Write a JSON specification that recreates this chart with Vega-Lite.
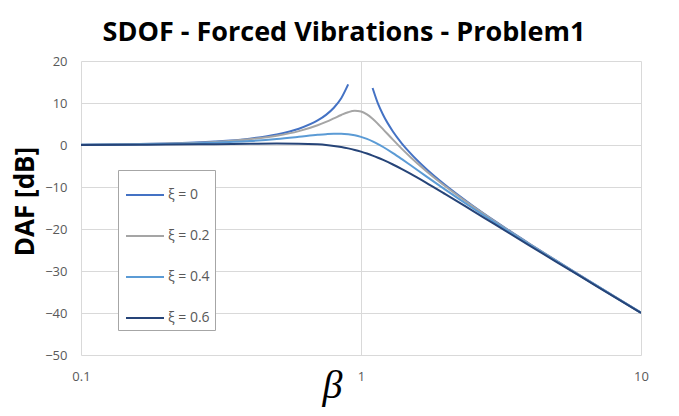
{
  "$schema": "https://vega.github.io/schema/vega-lite/v6.json",
  "autosize": "none",
  "width": 560,
  "height": 294,
  "padding": {"left": 81, "top": 61, "right": 38, "bottom": 61},
  "background": "white",
  "title": {
    "text": "SDOF - Forced Vibrations - Problem1",
    "font": "Open Sans",
    "fontSize": 27,
    "fontWeight": "bold",
    "color": "#000000",
    "anchor": "middle",
    "dx": -17,
    "offset": 8
  },
  "data": {
    "values": [
      {"b": 0.1, "x": "ξ = 0", "s": "a", "d": 0.087},
      {"b": 0.15, "x": "ξ = 0", "s": "a", "d": 0.198},
      {"b": 0.2, "x": "ξ = 0", "s": "a", "d": 0.355},
      {"b": 0.3, "x": "ξ = 0", "s": "a", "d": 0.819},
      {"b": 0.4, "x": "ξ = 0", "s": "a", "d": 1.514},
      {"b": 0.5, "x": "ξ = 0", "s": "a", "d": 2.499},
      {"b": 0.6, "x": "ξ = 0", "s": "a", "d": 3.876},
      {"b": 0.7, "x": "ξ = 0", "s": "a", "d": 5.849},
      {"b": 0.75, "x": "ξ = 0", "s": "a", "d": 7.18},
      {"b": 0.8, "x": "ξ = 0", "s": "a", "d": 8.874},
      {"b": 0.85, "x": "ξ = 0", "s": "a", "d": 11.135},
      {"b": 0.9, "x": "ξ = 0", "s": "a", "d": 14.425},
      {"b": 1.1, "x": "ξ = 0", "s": "b", "d": 13.556},
      {"b": 1.15, "x": "ξ = 0", "s": "b", "d": 9.829},
      {"b": 1.2, "x": "ξ = 0", "s": "b", "d": 7.131},
      {"b": 1.3, "x": "ξ = 0", "s": "b", "d": 3.223},
      {"b": 1.4, "x": "ξ = 0", "s": "b", "d": 0.355},
      {"b": 1.5, "x": "ξ = 0", "s": "b", "d": -1.938},
      {"b": 1.7, "x": "ξ = 0", "s": "b", "d": -5.529},
      {"b": 2, "x": "ξ = 0", "s": "b", "d": -9.542},
      {"b": 2.5, "x": "ξ = 0", "s": "b", "d": -14.403},
      {"b": 3, "x": "ξ = 0", "s": "b", "d": -18.062},
      {"b": 4, "x": "ξ = 0", "s": "b", "d": -23.522},
      {"b": 5, "x": "ξ = 0", "s": "b", "d": -27.604},
      {"b": 6, "x": "ξ = 0", "s": "b", "d": -30.881},
      {"b": 7, "x": "ξ = 0", "s": "b", "d": -33.625},
      {"b": 8, "x": "ξ = 0", "s": "b", "d": -35.987},
      {"b": 10, "x": "ξ = 0", "s": "b", "d": -39.913},

      {"b": 0.1, "x": "ξ = 0.2", "s": "a", "d": 0.08},
      {"b": 0.15, "x": "ξ = 0.2", "s": "a", "d": 0.181},
      {"b": 0.2, "x": "ξ = 0.2", "s": "a", "d": 0.325},
      {"b": 0.3, "x": "ξ = 0.2", "s": "a", "d": 0.744},
      {"b": 0.4, "x": "ξ = 0.2", "s": "a", "d": 1.36},
      {"b": 0.5, "x": "ξ = 0.2", "s": "a", "d": 2.2},
      {"b": 0.6, "x": "ξ = 0.2", "s": "a", "d": 3.305},
      {"b": 0.7, "x": "ξ = 0.2", "s": "a", "d": 4.704},
      {"b": 0.75, "x": "ξ = 0.2", "s": "a", "d": 5.507},
      {"b": 0.8, "x": "ξ = 0.2", "s": "a", "d": 6.345},
      {"b": 0.85, "x": "ξ = 0.2", "s": "a", "d": 7.153},
      {"b": 0.9, "x": "ξ = 0.2", "s": "a", "d": 7.807},
      {"b": 0.95, "x": "ξ = 0.2", "s": "a", "d": 8.127},
      {"b": 1, "x": "ξ = 0.2", "s": "a", "d": 7.959},
      {"b": 1.05, "x": "ξ = 0.2", "s": "a", "d": 7.284},
      {"b": 1.1, "x": "ξ = 0.2", "s": "a", "d": 6.24},
      {"b": 1.15, "x": "ξ = 0.2", "s": "a", "d": 5.009},
      {"b": 1.2, "x": "ξ = 0.2", "s": "a", "d": 3.726},
      {"b": 1.3, "x": "ξ = 0.2", "s": "a", "d": 1.27},
      {"b": 1.4, "x": "ξ = 0.2", "s": "a", "d": -0.917},
      {"b": 1.5, "x": "ξ = 0.2", "s": "a", "d": -2.839},
      {"b": 1.7, "x": "ξ = 0.2", "s": "a", "d": -6.058},
      {"b": 2, "x": "ξ = 0.2", "s": "a", "d": -9.841},
      {"b": 2.5, "x": "ξ = 0.2", "s": "a", "d": -14.558},
      {"b": 3, "x": "ξ = 0.2", "s": "a", "d": -18.158},
      {"b": 4, "x": "ξ = 0.2", "s": "a", "d": -23.571},
      {"b": 5, "x": "ξ = 0.2", "s": "a", "d": -27.634},
      {"b": 6, "x": "ξ = 0.2", "s": "a", "d": -30.902},
      {"b": 7, "x": "ξ = 0.2", "s": "a", "d": -33.64},
      {"b": 8, "x": "ξ = 0.2", "s": "a", "d": -35.998},
      {"b": 10, "x": "ξ = 0.2", "s": "a", "d": -39.92},

      {"b": 0.1, "x": "ξ = 0.4", "s": "a", "d": 0.059},
      {"b": 0.15, "x": "ξ = 0.4", "s": "a", "d": 0.133},
      {"b": 0.2, "x": "ξ = 0.4", "s": "a", "d": 0.236},
      {"b": 0.3, "x": "ξ = 0.4", "s": "a", "d": 0.527},
      {"b": 0.4, "x": "ξ = 0.4", "s": "a", "d": 0.926},
      {"b": 0.5, "x": "ξ = 0.4", "s": "a", "d": 1.412},
      {"b": 0.6, "x": "ξ = 0.4", "s": "a", "d": 1.938},
      {"b": 0.7, "x": "ξ = 0.4", "s": "a", "d": 2.413},
      {"b": 0.75, "x": "ξ = 0.4", "s": "a", "d": 2.585},
      {"b": 0.8, "x": "ξ = 0.4", "s": "a", "d": 2.683},
      {"b": 0.85, "x": "ξ = 0.4", "s": "a", "d": 2.681},
      {"b": 0.9, "x": "ξ = 0.4", "s": "a", "d": 2.561},
      {"b": 0.95, "x": "ξ = 0.4", "s": "a", "d": 2.313},
      {"b": 1, "x": "ξ = 0.4", "s": "a", "d": 1.938},
      {"b": 1.05, "x": "ξ = 0.4", "s": "a", "d": 1.45},
      {"b": 1.1, "x": "ξ = 0.4", "s": "a", "d": 0.87},
      {"b": 1.15, "x": "ξ = 0.4", "s": "a", "d": 0.221},
      {"b": 1.2, "x": "ξ = 0.4", "s": "a", "d": -0.474},
      {"b": 1.3, "x": "ξ = 0.4", "s": "a", "d": -1.925},
      {"b": 1.4, "x": "ξ = 0.4", "s": "a", "d": -3.377},
      {"b": 1.5, "x": "ξ = 0.4", "s": "a", "d": -4.775},
      {"b": 1.7, "x": "ξ = 0.4", "s": "a", "d": -7.341},
      {"b": 2, "x": "ξ = 0.4", "s": "a", "d": -10.63},
      {"b": 2.5, "x": "ξ = 0.4", "s": "a", "d": -14.992},
      {"b": 3, "x": "ξ = 0.4", "s": "a", "d": -18.436},
      {"b": 4, "x": "ξ = 0.4", "s": "a", "d": -23.715},
      {"b": 5, "x": "ξ = 0.4", "s": "a", "d": -27.723},
      {"b": 6, "x": "ξ = 0.4", "s": "a", "d": -30.962},
      {"b": 7, "x": "ξ = 0.4", "s": "a", "d": -33.684},
      {"b": 8, "x": "ξ = 0.4", "s": "a", "d": -36.031},
      {"b": 10, "x": "ξ = 0.4", "s": "a", "d": -39.941},

      {"b": 0.1, "x": "ξ = 0.6", "s": "a", "d": 0.024},
      {"b": 0.15, "x": "ξ = 0.6", "s": "a", "d": 0.053},
      {"b": 0.2, "x": "ξ = 0.6", "s": "a", "d": 0.091},
      {"b": 0.3, "x": "ξ = 0.6", "s": "a", "d": 0.188},
      {"b": 0.4, "x": "ξ = 0.6", "s": "a", "d": 0.287},
      {"b": 0.5, "x": "ξ = 0.6", "s": "a", "d": 0.35},
      {"b": 0.6, "x": "ξ = 0.6", "s": "a", "d": 0.325},
      {"b": 0.7, "x": "ξ = 0.6", "s": "a", "d": 0.152},
      {"b": 0.75, "x": "ξ = 0.6", "s": "a", "d": -0.006},
      {"b": 0.8, "x": "ξ = 0.6", "s": "a", "d": -0.217},
      {"b": 0.85, "x": "ξ = 0.6", "s": "a", "d": -0.482},
      {"b": 0.9, "x": "ξ = 0.6", "s": "a", "d": -0.801},
      {"b": 0.95, "x": "ξ = 0.6", "s": "a", "d": -1.17},
      {"b": 1, "x": "ξ = 0.6", "s": "a", "d": -1.584},
      {"b": 1.05, "x": "ξ = 0.6", "s": "a", "d": -2.036},
      {"b": 1.1, "x": "ξ = 0.6", "s": "a", "d": -2.52},
      {"b": 1.15, "x": "ξ = 0.6", "s": "a", "d": -3.029},
      {"b": 1.2, "x": "ξ = 0.6", "s": "a", "d": -3.555},
      {"b": 1.3, "x": "ξ = 0.6", "s": "a", "d": -4.639},
      {"b": 1.4, "x": "ξ = 0.6", "s": "a", "d": -5.733},
      {"b": 1.5, "x": "ξ = 0.6", "s": "a", "d": -6.815},
      {"b": 1.7, "x": "ξ = 0.6", "s": "a", "d": -8.884},
      {"b": 2, "x": "ξ = 0.6", "s": "a", "d": -11.691},
      {"b": 2.5, "x": "ξ = 0.6", "s": "a", "d": -15.63},
      {"b": 3, "x": "ξ = 0.6", "s": "a", "d": -18.863},
      {"b": 4, "x": "ξ = 0.6", "s": "a", "d": -23.945},
      {"b": 5, "x": "ξ = 0.6", "s": "a", "d": -27.868},
      {"b": 6, "x": "ξ = 0.6", "s": "a", "d": -31.061},
      {"b": 7, "x": "ξ = 0.6", "s": "a", "d": -33.756},
      {"b": 8, "x": "ξ = 0.6", "s": "a", "d": -36.087},
      {"b": 10, "x": "ξ = 0.6", "s": "a", "d": -39.976}
    ]
  },
  "mark": {"type": "line", "strokeWidth": 2, "interpolate": "monotone", "clip": true},
  "encoding": {
    "x": {
      "field": "b",
      "type": "quantitative",
      "scale": {"type": "log", "domain": [0.1, 10], "nice": false},
      "axis": {
        "values": [0.1, 1, 10],
        "format": "~g",
        "grid": true,
        "gridColor": "#D9D9D9",
        "gridWidth": 1,
        "domain": false,
        "ticks": false,
        "labelFont": "Open Sans",
        "labelFontSize": 13,
        "labelColor": "#595959",
        "labelPadding": 15,
        "labelFlush": false,
        "title": "β",
        "titleFont": "Liberation Serif",
        "titleFontStyle": "italic",
        "titleFontWeight": "normal",
        "titleFontSize": 40,
        "titleColor": "#000000",
        "titleAnchor": "start",
        "titleAlign": "center",
        "titleBaseline": "alphabetic",
        "titleX": 251,
        "titleY": 42
      }
    },
    "y": {
      "field": "d",
      "type": "quantitative",
      "scale": {"domain": [-50, 20], "nice": false},
      "axis": {
        "values": [-50, -40, -30, -20, -10, 0, 10, 20],
        "grid": true,
        "gridColor": "#D9D9D9",
        "gridWidth": 1,
        "domain": false,
        "ticks": false,
        "labelFont": "Open Sans",
        "labelFontSize": 13,
        "labelColor": "#595959",
        "labelPadding": 14,
        "title": "DAF [dB]",
        "titleFont": "Open Sans",
        "titleFontSize": 26,
        "titleFontWeight": "bold",
        "titleColor": "#000000",
        "titlePadding": 6,
        "titleY": 140
      }
    },
    "color": {
      "field": "x",
      "type": "nominal",
      "scale": {
        "domain": ["ξ = 0", "ξ = 0.2", "ξ = 0.4", "ξ = 0.6"],
        "range": ["#4472C4", "#A5A5A5", "#5B9BD5", "#264478"]
      },
      "legend": {
        "title": null,
        "orient": "none",
        "legendX": 37,
        "legendY": 109,
        "direction": "vertical",
        "symbolType": "stroke",
        "symbolSize": 1444,
        "symbolStrokeWidth": 2,
        "symbolOffset": 2,
        "labelFont": "Open Sans",
        "labelFontSize": 14,
        "labelColor": "#595959",
        "labelOffset": 3,
        "rowPadding": 14,
        "padding": 5,
        "strokeColor": "#A6A6A6",
        "fillColor": "#FFFFFF"
      }
    },
    "detail": {"field": "s", "type": "nominal"}
  },
  "config": {"view": {"stroke": null}}
}
